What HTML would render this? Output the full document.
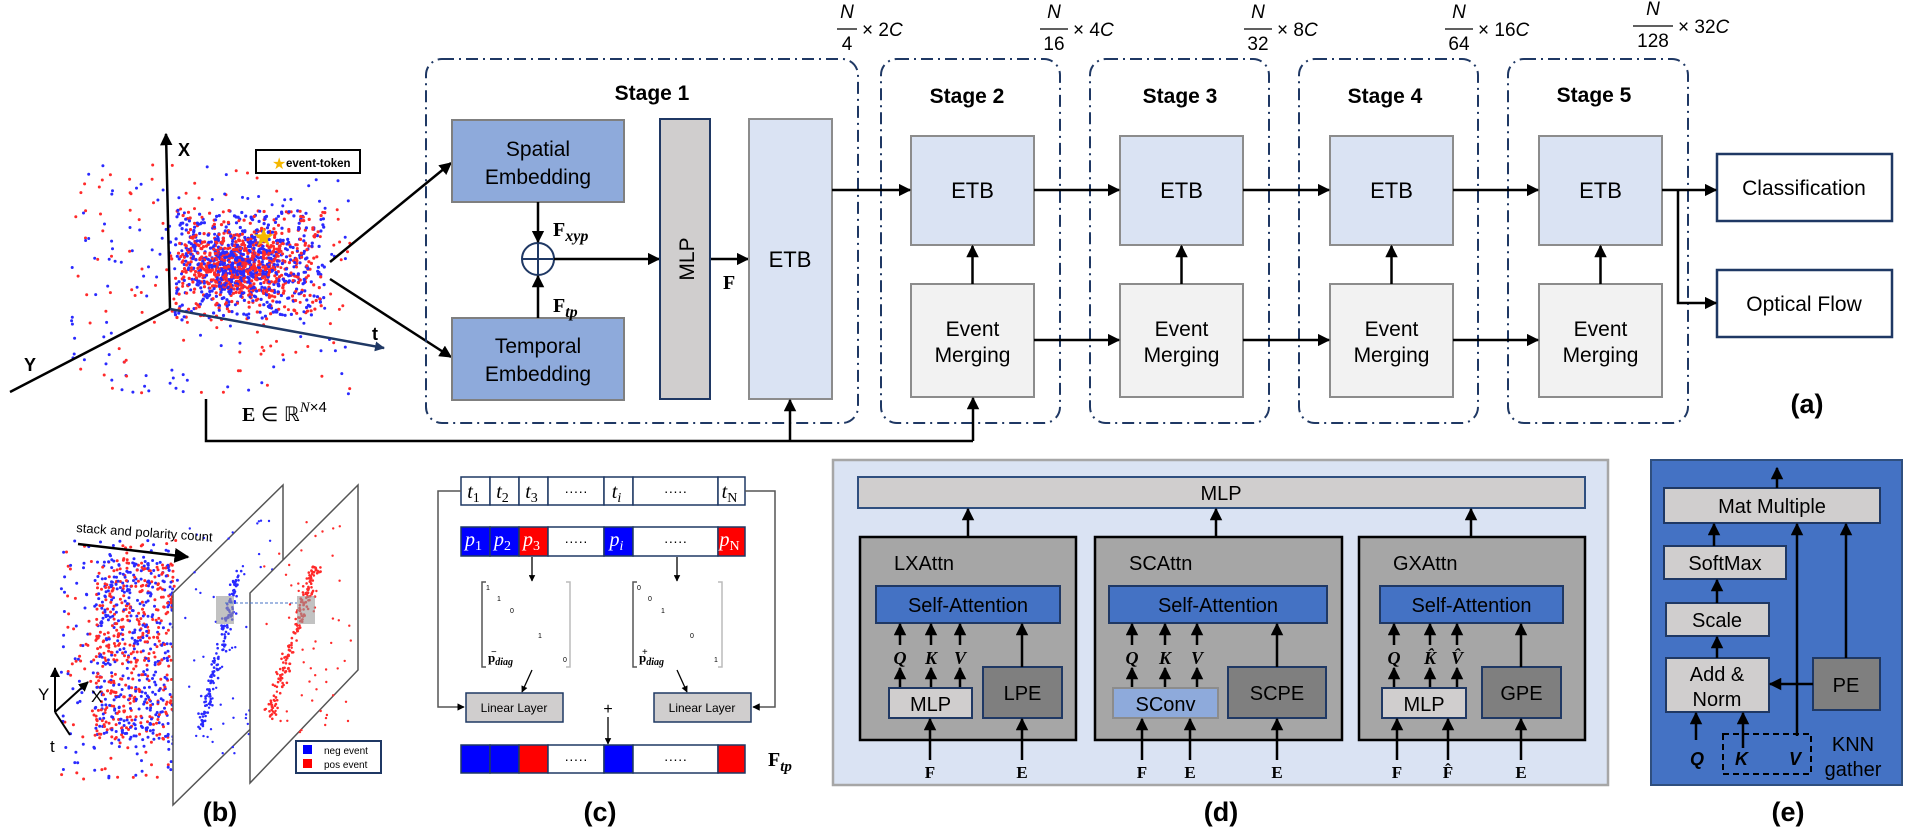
<!DOCTYPE html>
<html><head><meta charset="utf-8">
<style>
html,body{margin:0;padding:0;background:#fff;}
svg{display:block;}
text{font-family:"Liberation Sans",Arial,sans-serif;fill:#000;}
.m{font-family:"Liberation Serif","DejaVu Serif",serif;font-style:italic;}
.mb{font-family:"Liberation Serif","DejaVu Serif",serif;font-weight:bold;}
.lbl{font-weight:bold;font-size:27px;}
</style></head><body>
<svg id="s" width="1920" height="828" viewBox="0 0 1920 828" xmlns="http://www.w3.org/2000/svg">
<defs>
<marker id="a" viewBox="0 0 10 10" refX="9" refY="5" markerWidth="5" markerHeight="5" orient="auto-start-reverse"><path d="M0,0 L10,5 L0,10 z" fill="#000"/></marker>
<marker id="an" viewBox="0 0 10 10" refX="9" refY="5" markerWidth="4" markerHeight="4" orient="auto"><path d="M0,0 L10,5 L0,10 z" fill="#1f3864"/></marker>
<marker id="as" viewBox="0 0 10 10" refX="9" refY="5" markerWidth="6" markerHeight="6" orient="auto"><path d="M0,0 L10,5 L0,10 z" fill="#000"/></marker>
</defs>

<g id="dots"></g>

<!-- scatter axes -->
<g stroke="#000" stroke-width="2.5" fill="none">
<line x1="170" y1="309" x2="166" y2="134" marker-end="url(#a)"/>
<line x1="170" y1="309" x2="10" y2="392"/>
</g>
<line x1="170" y1="309" x2="384" y2="348" stroke="#1f3864" stroke-width="2.5" marker-end="url(#an)"/>
<text x="178" y="156" font-size="18" font-weight="bold">X</text>
<text x="372" y="340" font-size="18" font-weight="bold">t</text>
<text x="24" y="371" font-size="18" font-weight="bold">Y</text>
<rect x="256" y="150" width="104" height="23" fill="#fff" stroke="#000" stroke-width="2"/>
<text x="272" y="169" font-size="16" style="fill:#f5b800">★</text>
<text x="286" y="167" font-size="11.5" font-weight="bold">event-token</text>
<text x="252" y="246" font-size="26" style="fill:#f5b800">★</text>

<!-- arrows to embeddings -->
<g stroke="#000" stroke-width="2.5">
<line x1="330" y1="262" x2="451" y2="163" marker-end="url(#a)"/>
<line x1="330" y1="279" x2="451" y2="357" marker-end="url(#a)"/>
</g>

<!-- stage boxes -->
<g fill="none" stroke="#1f3864" stroke-width="2" stroke-dasharray="12 5 2 5">
<rect x="426" y="59" width="432" height="364" rx="16"/>
<rect x="881" y="59" width="179" height="364" rx="16"/>
<rect x="1090" y="59" width="179" height="364" rx="16"/>
<rect x="1299" y="59" width="179" height="364" rx="16"/>
<rect x="1508" y="59" width="180" height="364" rx="16"/>
</g>

<g font-size="21" font-weight="bold" text-anchor="middle">
<text x="652" y="100">Stage 1</text>
<text x="967" y="103">Stage 2</text>
<text x="1180" y="103">Stage 3</text>
<text x="1385" y="103">Stage 4</text>
<text x="1594" y="102">Stage 5</text>
</g>

<!-- fractions -->
<g class="m" font-size="19">
<g transform="translate(835,0)"><text x="12" y="18" text-anchor="middle">N</text><line x1="2" y1="29" x2="22" y2="29" stroke="#000" stroke-width="1.3"/><text x="12" y="50" text-anchor="middle" style="font-style:normal">4</text><text x="27" y="36" style="font-style:normal">× 2<tspan style="font-style:italic">C</tspan></text></g>
<g transform="translate(1038,0)"><text x="16" y="18" text-anchor="middle">N</text><line x1="2" y1="29" x2="30" y2="29" stroke="#000" stroke-width="1.3"/><text x="16" y="50" text-anchor="middle" style="font-style:normal">16</text><text x="35" y="36" style="font-style:normal">× 4<tspan style="font-style:italic">C</tspan></text></g>
<g transform="translate(1242,0)"><text x="16" y="18" text-anchor="middle">N</text><line x1="2" y1="29" x2="30" y2="29" stroke="#000" stroke-width="1.3"/><text x="16" y="50" text-anchor="middle" style="font-style:normal">32</text><text x="35" y="36" style="font-style:normal">× 8<tspan style="font-style:italic">C</tspan></text></g>
<g transform="translate(1443,0)"><text x="16" y="18" text-anchor="middle">N</text><line x1="2" y1="29" x2="30" y2="29" stroke="#000" stroke-width="1.3"/><text x="16" y="50" text-anchor="middle" style="font-style:normal">64</text><text x="35" y="36" style="font-style:normal">× 16<tspan style="font-style:italic">C</tspan></text></g>
<g transform="translate(1631,0)"><text x="22" y="15" text-anchor="middle">N</text><line x1="2" y1="26" x2="42" y2="26" stroke="#000" stroke-width="1.3"/><text x="22" y="47" text-anchor="middle" style="font-style:normal">128</text><text x="47" y="33" style="font-style:normal">× 32<tspan style="font-style:italic">C</tspan></text></g>
</g>

<!-- Stage 1 contents -->
<rect x="452" y="120" width="172" height="82" fill="#8eaadb" stroke="#7f7f7f" stroke-width="2"/>
<text x="538" y="156" font-size="21" text-anchor="middle">Spatial</text>
<text x="538" y="184" font-size="21" text-anchor="middle">Embedding</text>
<rect x="452" y="318" width="172" height="82" fill="#8eaadb" stroke="#7f7f7f" stroke-width="2"/>
<text x="538" y="353" font-size="21" text-anchor="middle">Temporal</text>
<text x="538" y="381" font-size="21" text-anchor="middle">Embedding</text>
<circle cx="538" cy="259" r="16" fill="#fff" stroke="#1f3864" stroke-width="2"/>
<line x1="522" y1="259" x2="554" y2="259" stroke="#1f3864" stroke-width="2"/>
<line x1="538" y1="243" x2="538" y2="275" stroke="#1f3864" stroke-width="2"/>
<g stroke="#000" stroke-width="2.5">
<line x1="538" y1="202" x2="538" y2="242" marker-end="url(#a)"/>
<line x1="538" y1="318" x2="538" y2="276" marker-end="url(#a)"/>
<line x1="554" y1="259" x2="659" y2="259" marker-end="url(#a)"/>
<line x1="710" y1="259" x2="748" y2="259" marker-end="url(#a)"/>
</g>
<text x="553" y="236" class="mb" font-size="20">F<tspan class="m" font-size="16" dy="5" style="font-weight:bold">xyp</tspan></text>
<text x="553" y="312" class="mb" font-size="20">F<tspan class="m" font-size="16" dy="5" style="font-weight:bold">tp</tspan></text>
<text x="723" y="289" class="mb" font-size="20">F</text>
<rect x="660" y="119" width="50" height="280" fill="#d0cece" stroke="#1f3864" stroke-width="2"/>
<text transform="translate(694,259) rotate(-90)" font-size="21" text-anchor="middle">MLP</text>
<rect x="749" y="119" width="83" height="280" fill="#dae3f3" stroke="#8c8c8c" stroke-width="2"/>
<text x="790" y="267" font-size="22" text-anchor="middle">ETB</text>

<!-- stages 2-5 -->
<g id="st"></g>

<!-- classification / optical flow -->
<rect x="1717" y="154" width="175" height="67" fill="#fff" stroke="#1f3864" stroke-width="2.5"/>
<text x="1804" y="195" font-size="21" text-anchor="middle">Classification</text>
<rect x="1717" y="270" width="175" height="67" fill="#fff" stroke="#1f3864" stroke-width="2.5"/>
<text x="1804" y="311" font-size="21" text-anchor="middle">Optical Flow</text>
<g stroke="#000" stroke-width="2.5" fill="none">
<line x1="1662" y1="190" x2="1716" y2="190" marker-end="url(#a)"/>
<polyline points="1678,190 1678,303 1716,303" marker-end="url(#a)"/>
</g>

<!-- E line -->
<text x="242" y="421" font-size="20"><tspan class="mb">E</tspan> ∈ ℝ<tspan class="m" font-size="15" dy="-9">N</tspan><tspan font-size="15">×4</tspan></text>
<g stroke="#000" stroke-width="2.5" fill="none">
<polyline points="206,399 206,441 973,441"/>
<line x1="790" y1="441" x2="790" y2="400" marker-end="url(#a)"/>
<line x1="973" y1="441" x2="973" y2="398" marker-end="url(#a)"/>
</g>
<text x="1807" y="413" class="lbl" text-anchor="middle">(a)</text>

<!-- panel b -->
<path d="M173,593 L283,485 L283,697 L173,805 Z" fill="#fff" stroke="#555" stroke-width="1.5"/>
<g id="p1"></g>
<path d="M250,593 L358,485 L358,670 L250,783 Z" fill="#fff" stroke="#555" stroke-width="1.5"/>
<g id="p2"></g>
<rect x="216" y="596" width="18" height="28" fill="#999" opacity="0.6"/>
<rect x="297" y="596" width="18" height="28" fill="#999" opacity="0.6"/>
<line x1="225" y1="603" x2="297" y2="603" stroke="#4472c4" stroke-dasharray="3 2"/>
<text x="76" y="532" font-size="13" transform="rotate(4 76 532)">stack and polarity count</text>
<line x1="78" y1="544" x2="188" y2="557" stroke="#000" stroke-width="2.5" marker-end="url(#as)"/>
<rect x="296" y="741" width="85" height="32" fill="#fff" stroke="#1f3864" stroke-width="2"/>
<rect x="303" y="745" width="9" height="9" fill="#0000ff"/>
<rect x="303" y="759" width="9" height="9" fill="#ff0000"/>
<text x="324" y="754" font-size="10">neg event</text>
<text x="324" y="768" font-size="10">pos event</text>
<g stroke="#000" stroke-width="2" fill="none">
<line x1="55" y1="712" x2="55" y2="668" marker-end="url(#a)"/>
<line x1="55" y1="712" x2="88" y2="682" marker-end="url(#a)"/>
<line x1="55" y1="712" x2="70" y2="735"/>
</g>
<text x="38" y="700" font-size="17">Y</text>
<text x="91" y="702" font-size="17">X</text>
<text x="50" y="752" font-size="17">t</text>
<text x="220" y="821" class="lbl" text-anchor="middle">(b)</text>

<!-- panel c -->
<g id="pc"></g>
<g stroke="#555" stroke-width="1.5" fill="none">
<polyline points="461,491 438,491 438,707 464,707" marker-end="url(#a)"/>
<polyline points="745,491 775,491 775,707 753,707" marker-end="url(#a)"/>
<path d="M486,582 L482,582 L482,667 L486,667"/>
<path d="M566,582 L570,582 L570,667 L566,667" stroke="#bbb"/>
<path d="M637,582 L633,582 L633,667 L637,667"/>
<path d="M718,582 L722,582 L722,667 L718,667" stroke="#bbb"/>
</g>
<g stroke="#000" stroke-width="1.3">
<line x1="532" y1="557" x2="532" y2="581" marker-end="url(#a)"/>
<line x1="677" y1="557" x2="677" y2="581" marker-end="url(#a)"/>
<line x1="532" y1="670" x2="522" y2="692" marker-end="url(#a)"/>
<line x1="677" y1="670" x2="687" y2="692" marker-end="url(#a)"/>
<line x1="608" y1="717" x2="608" y2="744" marker-end="url(#a)"/>
</g>
<g font-size="7" class="m" style="font-style:normal">
<text x="486" y="590">1</text><text x="497" y="601">1</text><text x="510" y="613">0</text><text x="538" y="638">1</text><text x="563" y="662">0</text>
<text x="637" y="590">0</text><text x="648" y="601">0</text><text x="661" y="613">1</text><text x="690" y="638">0</text><text x="714" y="662">1</text>
</g>
<text x="488" y="662" class="mb" font-size="13">p<tspan font-size="10" class="m" dy="3">diag</tspan><tspan font-size="10" dx="-22" dy="-10">−</tspan></text>
<text x="639" y="662" class="mb" font-size="13">p<tspan font-size="10" class="m" dy="3">diag</tspan><tspan font-size="10" dx="-22" dy="-10">+</tspan></text>
<rect x="466" y="693" width="97" height="29" fill="#d0cece" stroke="#1f3864" stroke-width="1.5"/>
<text x="514" y="712" font-size="12" text-anchor="middle">Linear Layer</text>
<rect x="654" y="693" width="97" height="29" fill="#d0cece" stroke="#1f3864" stroke-width="1.5"/>
<text x="702" y="712" font-size="12" text-anchor="middle">Linear Layer</text>
<text x="608" y="714" font-size="16" text-anchor="middle">+</text>
<text x="768" y="766" class="mb" font-size="20">F<tspan class="m" font-size="15" dy="5" style="font-weight:bold">tp</tspan></text>
<text x="600" y="821" class="lbl" text-anchor="middle">(c)</text>

<!-- panel d -->
<rect x="833" y="460" width="775" height="325" fill="#dae3f3" stroke="#a6a6a6" stroke-width="2.5"/>
<rect x="858" y="477" width="727" height="31" fill="#d0cece" stroke="#2f4f7f" stroke-width="2"/>
<text x="1221" y="500" font-size="20" text-anchor="middle">MLP</text>
<g id="pd"></g>
<text x="1221" y="821" class="lbl" text-anchor="middle">(d)</text>

<!-- panel e -->
<rect x="1651" y="460" width="251" height="325" fill="#4472c4" stroke="#2f4f7f" stroke-width="2"/>
<g stroke="#1f3864" stroke-width="2" fill="#d0cece">
<rect x="1664" y="488" width="216" height="35"/>
<rect x="1664" y="546" width="122" height="33"/>
<rect x="1666" y="603" width="103" height="33"/>
<rect x="1666" y="658" width="103" height="54"/>
<rect x="1813" y="658" width="67" height="52" fill="#7f7f7f"/>
</g>
<g font-size="20" text-anchor="middle">
<text x="1772" y="513">Mat Multiple</text>
<text x="1725" y="570">SoftMax</text>
<text x="1717" y="627">Scale</text>
<text x="1717" y="681">Add &amp;</text>
<text x="1717" y="706">Norm</text>
<text x="1846" y="692">PE</text>
<text x="1853" y="751">KNN</text>
<text x="1853" y="776">gather</text>
</g>
<g stroke="#000" stroke-width="2.5" fill="none">
<line x1="1777" y1="488" x2="1777" y2="468" marker-end="url(#a)"/>
<line x1="1714" y1="546" x2="1714" y2="524" marker-end="url(#a)"/>
<line x1="1717" y1="603" x2="1717" y2="580" marker-end="url(#a)"/>
<line x1="1717" y1="658" x2="1717" y2="637" marker-end="url(#a)"/>
<line x1="1797" y1="736" x2="1797" y2="524" marker-end="url(#a)"/>
<line x1="1846" y1="658" x2="1846" y2="524" marker-end="url(#a)"/>
<line x1="1813" y1="684" x2="1770" y2="684" marker-end="url(#a)"/>
<line x1="1696" y1="740" x2="1696" y2="713" marker-end="url(#a)"/>
<line x1="1743" y1="748" x2="1743" y2="713" marker-end="url(#a)"/>
</g>
<rect x="1723" y="734" width="88" height="40" fill="none" stroke="#000" stroke-width="2" stroke-dasharray="6 4"/>
<g class="mb" font-size="18" font-style="italic">
<text x="1690" y="765">Q</text><text x="1735" y="765">K</text><text x="1789" y="765">V</text>
</g>
<text x="1788" y="821" class="lbl" text-anchor="middle">(e)</text>
</svg>

<script>
(function(){
var NS="http://www.w3.org/2000/svg";
function el(p,t,a,txt){var e=document.createElementNS(NS,t);for(var k in a)e.setAttribute(k,a[k]);if(txt!==undefined)e.textContent=txt;p.appendChild(e);return e;}
var seed=12345;function r(){seed=(seed*1103515245+12345)%2147483648;return seed/2147483648;}
function g(){return (r()+r()+r()+r()-2)/1.15;}
var RED="#ff2a2a",BLUE="#2a2aff";
var d=document.getElementById("dots");
for(var i=0;i<1400;i++){var x=240+g()*55,y=265+g()*34;if(r()<0.35){x=175+r()*150;y=210+r()*110;}
el(d,"circle",{cx:x.toFixed(1),cy:y.toFixed(1),r:1.6,fill:r()<0.5?RED:BLUE});}
for(var i=0;i<260;i++){el(d,"circle",{cx:(70+r()*280).toFixed(1),cy:(165+r()*230).toFixed(1),r:1.5,fill:r()<0.5?RED:BLUE});}
// panel b cloud
for(var i=0;i<900;i++){var x=95+r()*80,y=560+r()*180;if(r()<0.3){x=60+r()*120;y=540+r()*240;}
el(d,"circle",{cx:x.toFixed(1),cy:y.toFixed(1),r:1.5,fill:r()<0.5?RED:BLUE});}
// planes
var p1=document.getElementById("p1"),p2=document.getElementById("p2");
for(var i=0;i<160;i++){var t=r();var x=240-t*40+g()*5,y=570+t*160+g()*5;el(p1,"circle",{cx:x.toFixed(1),cy:y.toFixed(1),r:1.3,fill:BLUE});}
for(var i=0;i<60;i++){el(p1,"circle",{cx:(185+r()*90).toFixed(1),cy:(520+r()*240).toFixed(1),r:1.2,fill:BLUE});}
for(var i=0;i<180;i++){var t=r();var x=316-t*45+g()*6,y=565+t*150+g()*6;el(p2,"circle",{cx:x.toFixed(1),cy:y.toFixed(1),r:1.3,fill:RED});}
for(var i=0;i<60;i++){el(p2,"circle",{cx:(262+r()*90).toFixed(1),cy:(520+r()*220).toFixed(1),r:1.2,fill:RED});}
// stages 2-5
var st=document.getElementById("st");
var xs=[911,1120,1330,1539];
xs.forEach(function(x,i){
 el(st,"rect",{x:x,y:136,width:123,height:109,fill:"#dae3f3",stroke:"#8c8c8c","stroke-width":2});
 el(st,"text",{x:x+61.5,y:198,"font-size":22,"text-anchor":"middle"},"ETB");
 el(st,"rect",{x:x,y:284,width:123,height:113,fill:"#f2f2f2",stroke:"#8c8c8c","stroke-width":2});
 el(st,"text",{x:x+61.5,y:336,"font-size":21,"text-anchor":"middle"},"Event");
 el(st,"text",{x:x+61.5,y:362,"font-size":21,"text-anchor":"middle"},"Merging");
 el(st,"line",{x1:x+61.5,y1:284,x2:x+61.5,y2:246,stroke:"#000","stroke-width":2.5,"marker-end":"url(#a)"});
 var px=(i==0)?832:xs[i-1]+123;
 el(st,"line",{x1:px,y1:190,x2:x-1,y2:190,stroke:"#000","stroke-width":2.5,"marker-end":"url(#a)"});
 if(i>0)el(st,"line",{x1:px,y1:340,x2:x-1,y2:340,stroke:"#000","stroke-width":2.5,"marker-end":"url(#a)"});
});
// panel c rows
var pc=document.getElementById("pc");
var cells=[[461,490],[490,519],[519,548],[548,604],[604,633],[633,718],[718,745]];
var tl=["t1","t2","t3","·····","ti","·····","tN"],pl=["p1","p2","p3","·····","pi","·····","pN"];
var pcol=["#0000ff","#0000ff","#ff0000","#fff","#0000ff","#fff","#ff0000"];
var fcol=["#0000ff","#0000ff","#ff0000","#fff","#0000ff","#fff","#ff0000"];
cells.forEach(function(c,i){
 var w=c[1]-c[0],cx=c[0]+w/2;
 el(pc,"rect",{x:c[0],y:477,width:w,height:28,fill:"#fff",stroke:"#1f3864","stroke-width":1.5});
 el(pc,"rect",{x:c[0],y:527,width:w,height:29,fill:pcol[i],stroke:"#1f3864","stroke-width":1.5});
 el(pc,"rect",{x:c[0],y:745,width:w,height:28,fill:fcol[i],stroke:"#1f3864","stroke-width":1.5});
 if(i==3||i==5){el(pc,"text",{x:cx,y:496,"font-size":14,"text-anchor":"middle"},"·····");el(pc,"text",{x:cx,y:546,"font-size":14,"text-anchor":"middle"},"·····");el(pc,"text",{x:cx,y:764,"font-size":14,"text-anchor":"middle"},"·····");}
 else{var s=tl[i];var t=el(pc,"text",{x:cx-2,y:498,"font-size":20,"text-anchor":"middle","class":"m"});t.textContent=s[0];el(t,"tspan",{"font-size":14,dy:4,style:"font-style:"+(s[1]=="i"?"italic":"normal")},s[1]);
  var s2=pl[i];var t2=el(pc,"text",{x:cx-2,y:546,"font-size":20,"text-anchor":"middle","class":"m",style:"fill:#fff"});t2.textContent=s2[0];el(t2,"tspan",{"font-size":14,dy:4,style:"fill:#fff;font-style:"+(s2[1]=="i"?"italic":"normal")},s2[1]);}
});
// panel d
var pd=document.getElementById("pd");
var A=function(x1,y1,x2,y2){el(pd,"line",{x1:x1,y1:y1,x2:x2,y2:y2,stroke:"#000","stroke-width":2.5,"marker-end":"url(#a)"});};
var blocks=[
 {bx:860,bw:216,name:"LXAttn",sa:[876,1060],top:968,qkv:[900,931,960],lab:["Q","K","V"],m:[889,972,"MLP","#d0cece","#1f3864"],pe:[983,1062,"LPE"],pex:1022,ins:[[930,"F",718],[1022,"E",718]]},
 {bx:1095,bw:247,name:"SCAttn",sa:[1109,1327],top:1216,qkv:[1132,1165,1197],lab:["Q","K","V"],m:[1113,1218,"SConv","#8eaadb","#8c8c8c"],pe:[1228,1326,"SCPE"],pex:1277,ins:[[1142,"F",718],[1190,"E",718],[1277,"E",718]]},
 {bx:1359,bw:226,name:"GXAttn",sa:[1380,1563],top:1471,qkv:[1394,1430,1457],lab:["Q","K̂","V̂"],m:[1382,1466,"MLP","#d0cece","#1f3864"],pe:[1482,1561,"GPE"],pex:1521,ins:[[1397,"F",718],[1448,"F̂",718],[1521,"E",718]]}
];
blocks.forEach(function(b){
 el(pd,"rect",{x:b.bx,y:537,width:b.bw,height:203,fill:"#a6a6a6",stroke:"#000","stroke-width":2.5});
 el(pd,"text",{x:b.bx+34,y:570,"font-size":20},b.name);
 A(b.top,537,b.top,509);
 el(pd,"rect",{x:b.sa[0],y:586,width:b.sa[1]-b.sa[0],height:37,fill:"#4472c4",stroke:"#1f3864","stroke-width":2});
 el(pd,"text",{x:(b.sa[0]+b.sa[1])/2,y:612,"font-size":20,"text-anchor":"middle"},"Self-Attention");
 b.qkv.forEach(function(x,j){A(x,645,x,624);A(x,688,x,668);el(pd,"text",{x:x,y:664,"font-size":18,"text-anchor":"middle","class":"mb",style:"font-style:italic"},b.lab[j]);});
 el(pd,"rect",{x:b.m[0],y:688,width:b.m[1]-b.m[0],height:30,fill:b.m[3],stroke:b.m[4],"stroke-width":2});
 el(pd,"text",{x:(b.m[0]+b.m[1])/2,y:711,"font-size":20,"text-anchor":"middle"},b.m[2]);
 el(pd,"rect",{x:b.pe[0],y:667,width:b.pe[1]-b.pe[0],height:51,fill:"#7f7f7f",stroke:"#1f3864","stroke-width":2});
 el(pd,"text",{x:(b.pe[0]+b.pe[1])/2,y:700,"font-size":20,"text-anchor":"middle"},b.pe[2]);
 A(b.pex,667,b.pex,624);
 b.ins.forEach(function(q){A(q[0],760,q[0],719);el(pd,"text",{x:q[0],y:778,"font-size":17,"text-anchor":"middle","class":"mb"},q[1]);});
});
})();
</script>
</body></html>
